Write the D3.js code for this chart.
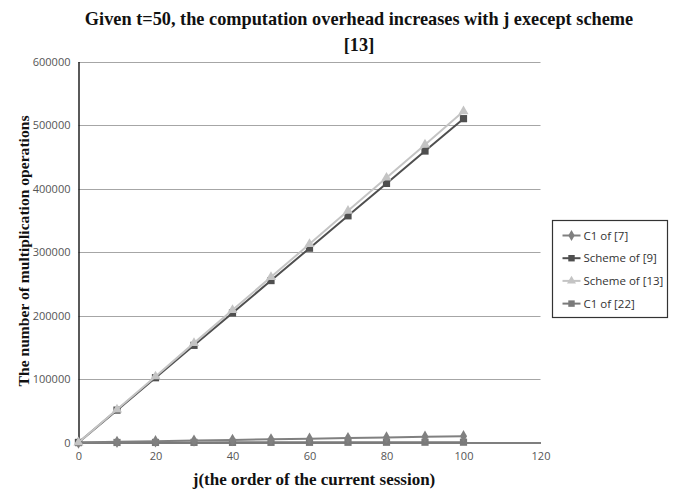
<!DOCTYPE html>
<html>
<head>
<meta charset="utf-8">
<script src="https://cdnjs.cloudflare.com/ajax/libs/d3/7.8.5/d3.min.js"></script>
<style>
  html, body { margin: 0; padding: 0; background: #fff; }
  svg { display: block; }
</style>
</head>
<body>
<svg id="chart" width="673" height="490"></svg>
<script>
// j values (order of the current session)
const jValues = [0, 10, 20, 30, 40, 50, 60, 70, 80, 90, 100];

// Number of multiplication operations for each scheme
const c1Of7     = [0, 1000, 2000, 3000, 4000, 5000, 6000, 7000, 8000, 9000, 10000];
const schemeOf9 = [0, 51000, 102000, 153000, 204000, 255000, 306000, 357000, 408000, 459000, 510000];
const schemeOf13 = [0, 52000, 104000, 156500, 208500, 260500, 312500, 365000, 417000, 469000, 521500];
const c1Of22    = [0, 50, 100, 150, 200, 250, 300, 350, 400, 450, 500];

const seriesNames = ["C1 of [7]", "Scheme of [9]", "Scheme of [13]", "C1 of [22]"];
const xTicks = [0, 20, 40, 60, 80, 100, 120];
const yTicks = [0, 100000, 200000, 300000, 400000, 500000, 600000];

const series = [
  { name: seriesNames[0], values: c1Of7, color: "#808080", marker: "diamond" },
  { name: seriesNames[1], values: schemeOf9, color: "#4f4f4f", marker: "square" },
  { name: seriesNames[2], values: schemeOf13, color: "#c4c4c4", marker: "triangle" },
  { name: seriesNames[3], values: c1Of22, color: "#7a7a7a", marker: "square" }
];

const svg = d3.select("#chart");
const plot = { left: 78.5, right: 540.5, top: 61.5, bottom: 442.5 };

const x = d3.scaleLinear().domain([0, 120]).range([plot.left, plot.right]);
const y = d3.scaleLinear().domain([0, 600000]).range([plot.bottom, plot.top]);

// Horizontal gridlines
svg.append("g")
  .selectAll("line")
  .data(yTicks.filter(d => d > 0))
  .join("line")
  .attr("x1", plot.left).attr("x2", plot.right)
  .attr("y1", d => Math.round(y(d)) + 0.5).attr("y2", d => Math.round(y(d)) + 0.5)
  .attr("stroke", "#a6a6a6").attr("stroke-width", 1.2);

// Y axis
const yAxis = svg.append("g")
  .attr("transform", `translate(${plot.left},0)`)
  .call(d3.axisLeft(y).tickValues(yTicks).tickSize(0).tickPadding(8).tickFormat(d3.format("d")));
yAxis.select(".domain").attr("stroke", "#000").attr("stroke-width", 1.3);
yAxis.selectAll("text")
  .attr("font-family", "'Open Sans', 'Liberation Sans', sans-serif")
  .attr("font-size", 11).attr("fill", "#555");

// X axis
const xAxis = svg.append("g")
  .attr("transform", `translate(0,${plot.bottom})`)
  .call(d3.axisBottom(x).tickValues(xTicks).tickSize(0).tickPadding(10));
xAxis.select(".domain").attr("stroke", "#555").attr("stroke-width", 1.5);
xAxis.selectAll("text")
  .attr("font-family", "'Open Sans', 'Liberation Sans', sans-serif")
  .attr("font-size", 11).attr("fill", "#555");

// Marker shapes
const symbolType = {
  diamond: d3.symbolDiamond,
  square: d3.symbolSquare,
  triangle: d3.symbolTriangle
};
const symbolSize = { diamond: 44, square: 52, triangle: 44 };

const line = d3.line()
  .x((d, i) => x(jValues[i]))
  .y(d => y(d));

// Draw series so the lighter scheme ends up on top
const drawOrder = [3, 0, 1, 2];
drawOrder.forEach(k => {
  const s = series[k];
  const g = svg.append("g");
  g.append("path")
    .datum(s.values)
    .attr("fill", "none")
    .attr("stroke", s.color)
    .attr("stroke-width", 2)
    .attr("d", line);
  g.selectAll("path.marker")
    .data(s.values)
    .join("path")
    .attr("class", "marker")
    .attr("transform", (d, i) => `translate(${x(jValues[i])},${y(d)})`)
    .attr("d", d3.symbol().type(symbolType[s.marker]).size(symbolSize[s.marker]))
    .attr("fill", s.color);
});

// Title
const title = svg.append("text")
  .attr("text-anchor", "middle")
  .attr("font-family", "'Liberation Serif', 'Times New Roman', serif")
  .attr("font-weight", "bold")
  .attr("font-size", 18.3)
  .attr("fill", "#111");
title.append("tspan").attr("x", 359).attr("y", 25)
  .text("Given t=50, the computation overhead increases with j execept scheme");
title.append("tspan").attr("x", 359).attr("y", 51).text("[13]");

// Axis titles
svg.append("text")
  .attr("transform", "translate(29,251) rotate(-90)")
  .attr("text-anchor", "middle")
  .attr("font-family", "'Liberation Serif', 'Times New Roman', serif")
  .attr("font-weight", "bold")
  .attr("font-size", 15.6)
  .attr("fill", "#111")
  .text("The number of multiplication operations");

svg.append("text")
  .attr("x", 314).attr("y", 485)
  .attr("text-anchor", "middle")
  .attr("font-family", "'Liberation Serif', 'Times New Roman', serif")
  .attr("font-weight", "bold")
  .attr("font-size", 17)
  .attr("fill", "#111")
  .text("j(the order of the current session)");

// Legend
const legend = svg.append("g").attr("transform", "translate(552.5,220.5)");
legend.append("rect")
  .attr("width", 115).attr("height", 97)
  .attr("fill", "#fff").attr("stroke", "#333").attr("stroke-width", 1.2);
series.forEach((s, i) => {
  const row = legend.append("g").attr("transform", `translate(0,${15 + i * 22.7})`);
  row.append("line")
    .attr("x1", 10).attr("x2", 28).attr("y1", 0).attr("y2", 0)
    .attr("stroke", s.color).attr("stroke-width", 2);
  row.append("path")
    .attr("transform", "translate(19,0)")
    .attr("d", d3.symbol().type(symbolType[s.marker]).size(symbolSize[s.marker] * 0.8))
    .attr("fill", s.color);
  row.append("text")
    .attr("x", 31).attr("y", 4)
    .attr("font-family", "'Open Sans', 'Liberation Sans', sans-serif")
    .attr("font-size", 11.5)
    .attr("fill", "#333")
    .text(s.name);
});
</script>
</body>
</html>
